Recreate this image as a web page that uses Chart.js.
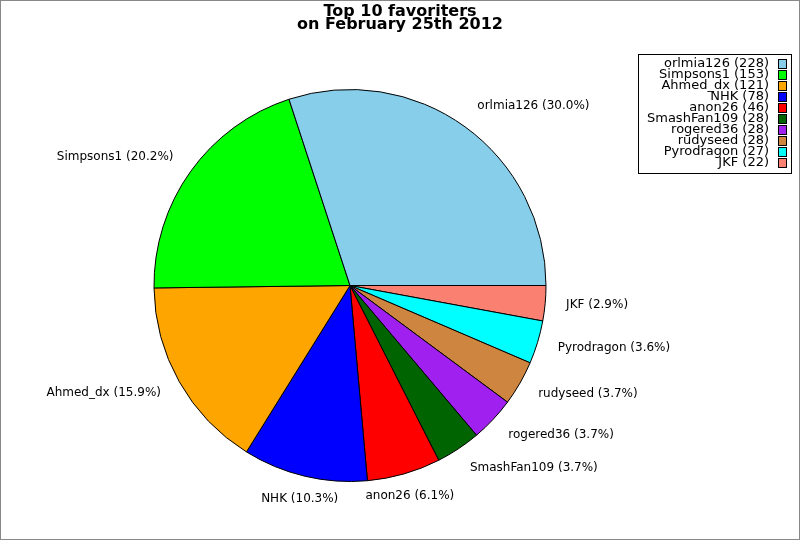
<!DOCTYPE html>
<html>
<head>
<meta charset="utf-8">
<script src="https://cdn.jsdelivr.net/npm/chart.js@4/dist/chart.umd.min.js"></script>
<style>
  body { margin: 0; background: #fff; }
  #wrap { width: 800px; height: 540px; box-sizing: border-box; border: 1px solid #888; }
  canvas { display: block; }
</style>
</head>
<body>
<div id="wrap"><canvas id="grafico" width="798" height="538"></canvas></div>
<script>
// dados
var titulo = ['Top 10 favoriters', 'on February 25th 2012'];
var nomes = ['orlmia126', 'Simpsons1', 'Ahmed_dx', 'NHK', 'anon26', 'SmashFan109', 'rogered36', 'rudyseed', 'Pyrodragon', 'JKF'];
var quantidades = [228, 153, 121, 78, 46, 28, 28, 28, 27, 22];
var cores = ['#87CEEB', '#00FF00', '#FFA500', '#0000FF', '#FF0000', '#006400', '#A020F0', '#CD853F', '#00FFFF', '#FA8072'];

var total = quantidades.reduce(function (a, b) { return a + b; }, 0);

// the pie turns counter-clockwise, so feed the slices in reverse
var nomesInv = nomes.slice().reverse();
var quantInv = quantidades.slice().reverse();
var coresInv = cores.slice().reverse();

var fonte = '"DejaVu Sans", sans-serif';

// title + legend box
var extras = {
    id: 'extras',
    afterDraw: function (chart) {
        var ctx = chart.ctx;
        ctx.save();
        ctx.fillStyle = '#000';
        ctx.textAlign = 'center';
        ctx.textBaseline = 'middle';
        ctx.font = 'bold 16px ' + fonte;
        ctx.fillText(titulo[0], 399, 11);
        ctx.fillText(titulo[1], 399, 24);

        ctx.strokeStyle = '#000';
        ctx.lineWidth = 1;
        ctx.strokeRect(637.5, 53.5, 153, 119);
        ctx.font = '13px ' + fonte;
        ctx.textAlign = 'right';
        for (var i = 0; i < nomes.length; i++) {
            var y = 63 + i * 11;
            ctx.fillStyle = '#000';
            ctx.fillText(nomes[i] + ' (' + quantidades[i] + ')', 768, y);
            ctx.fillStyle = cores[i];
            ctx.fillRect(777.5, y - 4.5, 8, 9);
            ctx.strokeRect(777.5, y - 4.5, 8, 9);
        }
        ctx.restore();
    }
};

// slice labels outside the pie
var rotulos = {
    id: 'rotulos',
    afterDatasetsDraw: function (chart) {
        var ctx = chart.ctx;
        var meta = chart.getDatasetMeta(0);
        ctx.save();
        ctx.font = '12px ' + fonte;
        ctx.fillStyle = '#000';
        ctx.textBaseline = 'middle';
        meta.data.forEach(function (arc, i) {
            var p = arc.getProps(['x', 'y', 'startAngle', 'endAngle', 'outerRadius'], true);
            var meio = (p.startAngle + p.endAngle) / 2;
            var r = p.outerRadius + 21;
            var x = p.x + Math.cos(meio) * r;
            var y = p.y + Math.sin(meio) * (r + 3) - 1;
            var c = Math.cos(meio);
            ctx.textAlign = Math.abs(c) < 0.5 ? 'center' : (c > 0 ? 'left' : 'right');
            var pct = (quantInv[i] / total * 100).toFixed(1);
            ctx.fillText(nomesInv[i] + ' (' + pct + '%)', x, y);
        });
        ctx.restore();
    }
};

var config = {
    type: 'pie',
    data: {
        labels: nomesInv,
        datasets: [{
            data: quantInv,
            backgroundColor: coresInv,
            borderColor: '#000',
            borderWidth: 1
        }]
    },
    options: {
        responsive: false,
        animation: false,
        devicePixelRatio: 1,
        rotation: 90,
        layout: { padding: { left: 152, right: 252, top: 88, bottom: 57 } },
        plugins: {
            legend: { display: false },
            title: { display: false },
            tooltip: { enabled: false }
        }
    },
    plugins: [rotulos, extras]
};

var myChart = new Chart(document.getElementById('grafico'), config);
</script>
</body>
</html>
